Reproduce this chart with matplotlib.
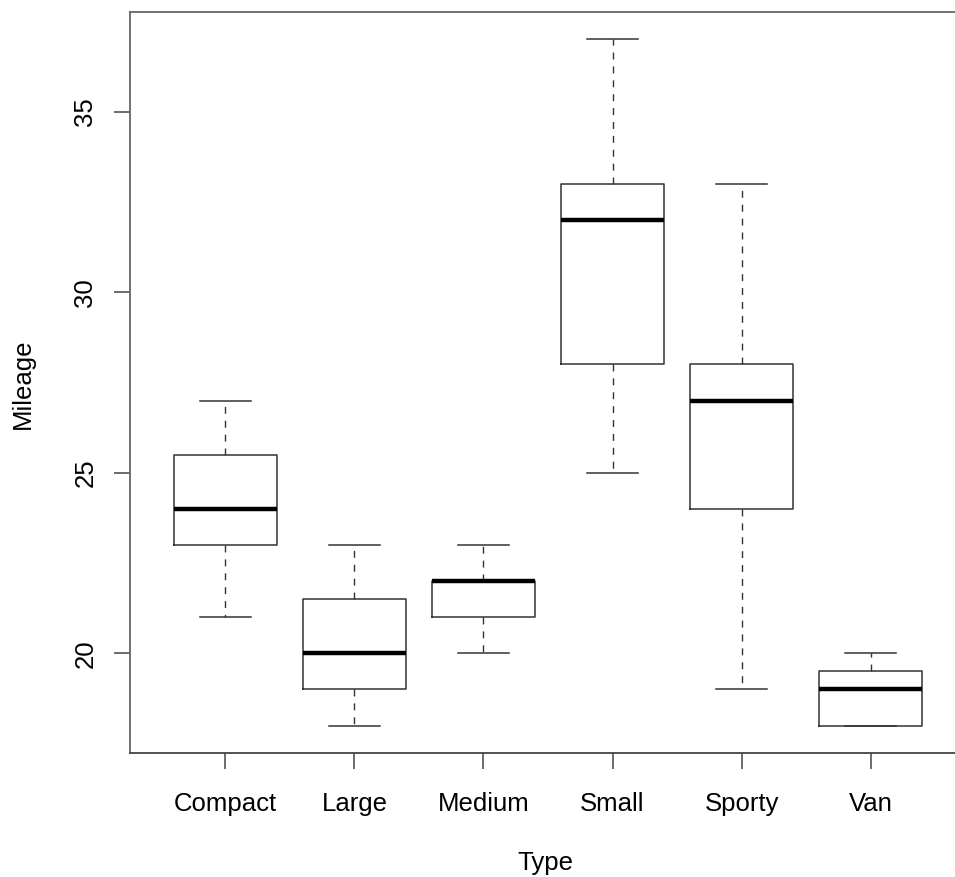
import matplotlib.pyplot as plt

plt.rcParams['font.family'] = ['Liberation Sans', 'DejaVu Sans']

# Mileage summary per car type (whisker low, Q1, median, Q3, whisker high)
types = ['Compact', 'Large', 'Medium', 'Small', 'Sporty', 'Van']
whislo = [21, 18, 20, 25, 19, 18]
q1 = [23, 19, 21, 28, 24, 18]
med = [24, 20, 22, 32, 27, 19]
q3 = [25.5, 21.5, 22, 33, 28, 19.5]
whishi = [27, 23, 23, 37, 33, 20]

stats = [dict(label=t, whislo=lo, q1=a, med=m, q3=b, whishi=hi)
         for t, lo, a, m, b, hi in zip(types, whislo, q1, med, q3, whishi)]

fig = plt.figure(figsize=(9.55, 8.77), dpi=100)
# axes runs a little past the right edge of the figure, like the R device
ax = fig.add_axes([130 / 955, 1 - 753 / 877, 836 / 955, 741 / 877])

line = '#333333'
ax.bxp(stats, positions=range(1, 7), widths=0.8, showfliers=False,
       boxprops=dict(color=line, linewidth=1.1),
       medianprops=dict(color='black', linewidth=3.2, solid_capstyle='butt'),
       whiskerprops=dict(color=line, linewidth=1.0, linestyle=(0, (5, 5))),
       capprops=dict(color=line, linewidth=1.1), capwidths=0.4)

ax.set_xlim(0.26, 6.74)
ax.set_ylim(17.24, 37.76)
ax.set_yticks([20, 25, 30, 35])
ax.set_xticks(range(1, 7))
ax.set_xticklabels(types)

for side in ['left', 'top', 'right', 'bottom']:
    ax.spines[side].set_color('#666666')
    ax.spines[side].set_linewidth(1.3)
ax.spines['bottom'].set_color('#444444')

fs = 18.5
ax.tick_params(axis='both', direction='out', length=11.5, width=1.1,
               color='#444444', labelsize=fs)
ax.tick_params(axis='x', pad=16.5)
ax.tick_params(axis='y', pad=12)
for lab in ax.get_yticklabels():
    lab.set_rotation(90)
    lab.set_va('center')

fig.text(23 / 955, 1 - 384 / 877, 'Mileage', rotation=90, fontsize=fs,
         ha='center', va='center')
fig.text(545 / 955, 1 - 863 / 877, 'Type', fontsize=fs,
         ha='center', va='center')

fig.savefig('out.png', dpi=100)
